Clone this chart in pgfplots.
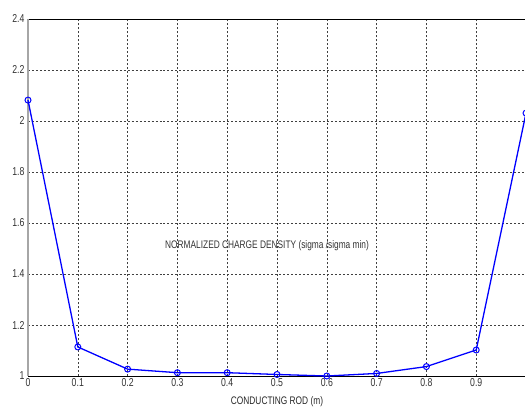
\documentclass[border=0pt]{standalone}
\usepackage{pgfplots}
\pgfplotsset{compat=1.18}
\usepackage{fontspec}
\setmainfont{Liberation Sans}[FakeStretch=0.76]
\begin{document}
\begin{tikzpicture}[x=1bp,y=1bp]
\begin{axis}[
  at={(28bp,32bp)}, anchor=south west,
  scale only axis, width=498bp, height=357bp,
  xmin=0, xmax=1, ymin=1, ymax=2.4,
  xtick={0,0.1,0.2,0.3,0.4,0.5,0.6,0.7,0.8,0.9},
  xticklabels={0,0.1,0.2,0.3,0.4,0.5,0.6,0.7,0.8,0.9},
  ytick={1,1.2,1.4,1.6,1.8,2,2.2,2.4},
  yticklabels={1,1.2,1.4,1.6,1.8,2,2.2,2.4},
  grid=major,
  major grid style={black!75, line width=0.5pt, dash pattern=on 2pt off 2pt},
  tick style={draw=none},
  separate axis lines,
  x axis line style={black, line width=0.8pt},
  y axis line style={gray!70, line width=1.6pt},
  ticklabel style={font=\fontsize{11.5}{12}\selectfont, text=black!80},
  xticklabel style={yshift=1pt},
  /pgf/number format/assume math mode=true,
  xlabel={CONDUCTING ROD (m)},
  xlabel style={font=\fontsize{11}{12}\selectfont, text=black!85, at={(axis description cs:0.5,0)}, anchor=north, yshift=-17bp},
  clip=false,
]
\addplot[blue, line width=1.3pt, mark=o, mark size=3pt, mark options={line width=1pt}] coordinates {
(0,2.082) (0.1,1.114) (0.2,1.027) (0.3,1.013) (0.4,1.013) (0.5,1.006) (0.6,1.0) (0.7,1.01) (0.8,1.037) (0.9,1.102) (1.0,2.031)
};
\node[font=\fontsize{11}{12}\selectfont, text=black!80, inner sep=1pt] at (axis cs:0.48,1.51) {NORMALIZED CHARGE DENSITY (sigma /sigma min)};
\end{axis}
\pgfresetboundingbox
\path[use as bounding box] (0,0) rectangle (525,408);
\end{tikzpicture}
\end{document}
